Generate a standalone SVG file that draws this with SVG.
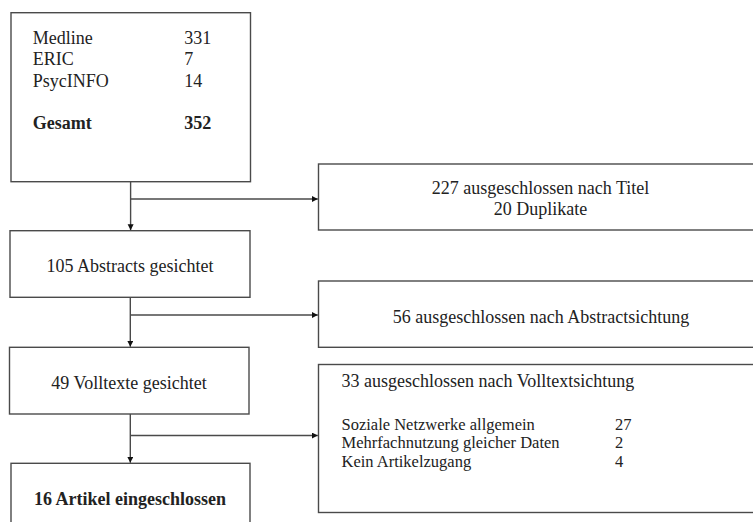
<svg xmlns="http://www.w3.org/2000/svg" width="753" height="522" viewBox="0 0 753 522">
<style>
.box{fill:#fff;stroke:#4a4a4a;stroke-width:1.4}
.t{font-family:'Liberation Serif',Tinos,'Times New Roman',serif;font-size:18px;fill:#222}
.s{font-size:16.5px}
.b{font-weight:bold}
.c{text-anchor:middle}
.ln{fill:none;stroke:#4a4a4a;stroke-width:1.4}
</style>
<defs>
<marker id="ah" markerUnits="userSpaceOnUse" markerWidth="8" markerHeight="8" refX="6" refY="3" orient="auto">
<path d="M0,0 L6,3 L0,6 Z" fill="#111"/>
</marker>
</defs>
<rect width="753" height="522" fill="#fff"/>
<g id="node-sources">
<rect class="box" x="11" y="12.7" width="239.5" height="169"/>
<text class="t" x="32.7" y="43.5">Medline</text>
<text class="t" x="184.3" y="43.5">331</text>
<text class="t" x="32.7" y="65">ERIC</text>
<text class="t" x="184.3" y="65">7</text>
<text class="t" x="32.7" y="86.5">PsycINFO</text>
<text class="t" x="184.3" y="86.5">14</text>
<text class="t b" x="32.7" y="129">Gesamt</text>
<text class="t b" x="184.3" y="129">352</text>
</g>
<g id="node-excl-title">
<rect class="box" x="318.5" y="164" width="450" height="66"/>
<text class="t c" x="540.5" y="194.3">227 ausgeschlossen nach Titel</text>
<text class="t c" x="540.5" y="215">20 Duplikate</text>
</g>
<g id="node-abstracts">
<rect class="box" x="10" y="230.7" width="240" height="66.6"/>
<text class="t c" x="130" y="271.7">105 Abstracts gesichtet</text>
</g>
<g id="node-excl-abstract">
<rect class="box" x="318.5" y="281" width="450" height="66.3"/>
<text class="t c" x="541" y="323.3">56 ausgeschlossen nach Abstractsichtung</text>
</g>
<g id="node-fulltexts">
<rect class="box" x="9.5" y="347.3" width="239.5" height="66.7"/>
<text class="t c" x="129" y="389.3">49 Volltexte gesichtet</text>
</g>
<g id="node-excl-fulltext">
<rect class="box" x="318.5" y="364.5" width="450" height="148"/>
<text class="t" x="341.5" y="386.5">33 ausgeschlossen nach Volltextsichtung</text>
<text class="t s" x="341.5" y="430">Soziale Netzwerke allgemein</text>
<text class="t s" x="615" y="430">27</text>
<text class="t s" x="341.5" y="448.3">Mehrfachnutzung gleicher Daten</text>
<text class="t s" x="615" y="448.3">2</text>
<text class="t s" x="341.5" y="466.6">Kein Artikelzugang</text>
<text class="t s" x="615" y="466.6">4</text>
</g>
<g id="node-included">
<rect class="box" x="11" y="463.3" width="239" height="80"/>
<text class="t b c" x="130" y="505">16 Artikel eingeschlossen</text>
</g>
<g id="connectors">
<line class="ln" x1="130.6" y1="181.7" x2="130.6" y2="230.2" marker-end="url(#ah)"/>
<line class="ln" x1="130.6" y1="199" x2="317.8" y2="199" marker-end="url(#ah)"/>
<line class="ln" x1="130.3" y1="297.3" x2="130.3" y2="346.8" marker-end="url(#ah)"/>
<line class="ln" x1="130.3" y1="315" x2="317.8" y2="315" marker-end="url(#ah)"/>
<line class="ln" x1="130.3" y1="414" x2="130.3" y2="462.8" marker-end="url(#ah)"/>
<line class="ln" x1="130.3" y1="435.5" x2="317.8" y2="435.5" marker-end="url(#ah)"/>
</g>
</svg>
